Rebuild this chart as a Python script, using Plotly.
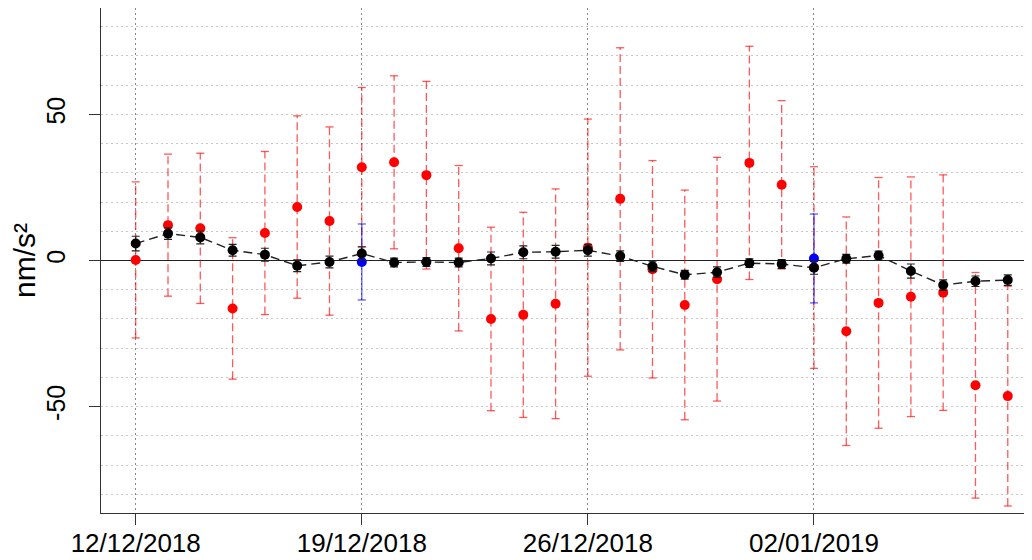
import pandas as pd
import plotly.graph_objects as go

# daily values, 12/12/2018 - 08/01/2019
dates = ["2018-12-12", "2018-12-13", "2018-12-14", "2018-12-15", "2018-12-16",
         "2018-12-17", "2018-12-18", "2018-12-19", "2018-12-20", "2018-12-21",
         "2018-12-22", "2018-12-23", "2018-12-24", "2018-12-25", "2018-12-26",
         "2018-12-27", "2018-12-28", "2018-12-29", "2018-12-30", "2018-12-31",
         "2019-01-01", "2019-01-02", "2019-01-03", "2019-01-04", "2019-01-05",
         "2019-01-06", "2019-01-07", "2019-01-08"]

red_vals = [0.2, 12.1, 11.0, -16.4, 9.4, 18.3, 13.5, 31.9, 33.6, 29.2,
            4.2, -20.0, -18.6, -14.8, 4.4, 21.1, -3.0, -15.2, -6.4, 33.4,
            25.9, -2.4, -24.2, -14.5, -12.4, -11.0, -42.7, -46.4]
red_err = [26.7, 24.3, 25.7, 24.2, 27.9, 31.2, 32.2, 27.3, 29.6, 32.1,
           28.3, 31.4, 35.1, 39.3, 44.0, 51.7, 37.2, 39.3, 41.7, 39.9,
           28.8, 34.5, 39.1, 42.9, 41.0, 40.3, 38.6, 37.6]

black_vals = [5.8, 9.2, 7.9, 3.5, 2.0, -1.8, -0.5, 2.4, -0.7, -0.5,
              -0.7, 0.7, 2.8, 3.0, 3.5, 1.5, -2.0, -4.9, -4.0, -0.9,
              -1.2, -2.5, 0.6, 1.7, -3.6, -8.4, -7.1, -6.7]
black_err = [2.5, 2.0, 2.2, 2.0, 2.2, 2.0, 2.0, 2.3, 1.5, 1.5,
             1.5, 2.2, 2.2, 2.2, 2.0, 1.8, 1.8, 1.5, 1.8, 1.5,
             1.5, 2.2, 1.5, 1.5, 2.4, 1.8, 1.8, 1.8]

blue_dates = ["2018-12-19", "2019-01-02"]
blue_vals = [-0.5, 0.7]
blue_err = [13.0, 15.2]

tick_dates = ["2018-12-12", "2018-12-19", "2018-12-26", "2019-01-02"]
y_ticks = [-50, 0, 50]
y_labels = ["-50", "0", "50"]


def bar_segments(xs, vals, errs):
    """ vertical error segments and their caps, separated by None """
    cap = pd.Timedelta(hours=3)
    vx, vy, cx, cy = [], [], [], []
    for d, v, e in zip(xs, vals, errs):
        t = pd.Timestamp(d)
        vx += [t, t, None]
        vy += [v - e, v + e, None]
        for yy in (v - e, v + e):
            cx += [t - cap, t + cap, None]
            cy += [yy, yy, None]
    return vx, vy, cx, cy


fig = go.Figure()

# red series with dashed error bars
vx, vy, cx, cy = bar_segments(dates, red_vals, red_err)
fig.add_trace(go.Scatter(x=vx, y=vy, mode="lines",
        line=dict(color="rgba(255,0,0,0.65)", width=1.3, dash="8px,4px")))
fig.add_trace(go.Scatter(x=cx, y=cy, mode="lines",
        line=dict(color="rgba(255,0,0,0.65)", width=1.3)))
fig.add_trace(go.Scatter(x=dates, y=red_vals, mode="markers",
        marker=dict(color="red", size=10)))

# blue points
vx, vy, cx, cy = bar_segments(blue_dates, blue_vals, blue_err)
fig.add_trace(go.Scatter(x=vx, y=vy, mode="lines",
        line=dict(color="rgba(0,0,255,0.6)", width=1.4)))
fig.add_trace(go.Scatter(x=cx, y=cy, mode="lines",
        line=dict(color="rgba(0,0,255,0.6)", width=1.4)))
fig.add_trace(go.Scatter(x=blue_dates, y=blue_vals, mode="markers",
        marker=dict(color="blue", size=10)))

# black series joined by a dashed line
fig.add_trace(go.Scatter(x=dates, y=black_vals, mode="lines+markers",
        line=dict(color="#222222", width=1.4, dash="9px,5px"),
        marker=dict(color="black", size=10),
        error_y=dict(type="data", array=black_err, color="#222222",
                     thickness=1.2, width=4)))

# page body has an 8px margin, so the figure is sized to the visible area
fig.update_layout(
    width=1024, height=552,
    margin=dict(l=93, r=0, t=0, b=47),
    plot_bgcolor="white", paper_bgcolor="white",
    showlegend=False,
    font=dict(family="Liberation Sans, Arial, sans-serif", size=25, color="black"),
)

fig.update_xaxes(
    type="date", automargin=False,
    range=["2018-12-10 22:13", "2019-01-08 18:00"],
    tickvals=tick_dates, tickformat="%d/%m/%Y", tickfont=dict(size=26),
    ticklabelstandoff=-4,
    ticks="outside", ticklen=11, tickcolor="#333333",
    showline=True, mirror=True, linecolor="#333333", linewidth=1,
    showgrid=True, gridcolor="#888888", griddash="2px,3px", gridwidth=1,
    zeroline=False,
)

fig.update_yaxes(
    automargin=False,
    range=[-86.4, 86.4],
    tickvals=y_ticks, ticktext=y_labels, tickangle=-90, ticklabelstandoff=14,
    ticks="outside", ticklen=11, tickcolor="#333333",
    showline=True, mirror=False, linecolor="#333333", linewidth=1,
    showgrid=True, gridcolor="#c8c8c8", griddash="2px,3px", gridwidth=1,
    minor=dict(dtick=10, tick0=0, showgrid=True, gridcolor="#c8c8c8",
               griddash="2px,3px", gridwidth=1),
    zeroline=True, zerolinecolor="#222222", zerolinewidth=1,
    title=dict(text="nm/s²", standoff=18),
)

fig.write_html("out.html")
